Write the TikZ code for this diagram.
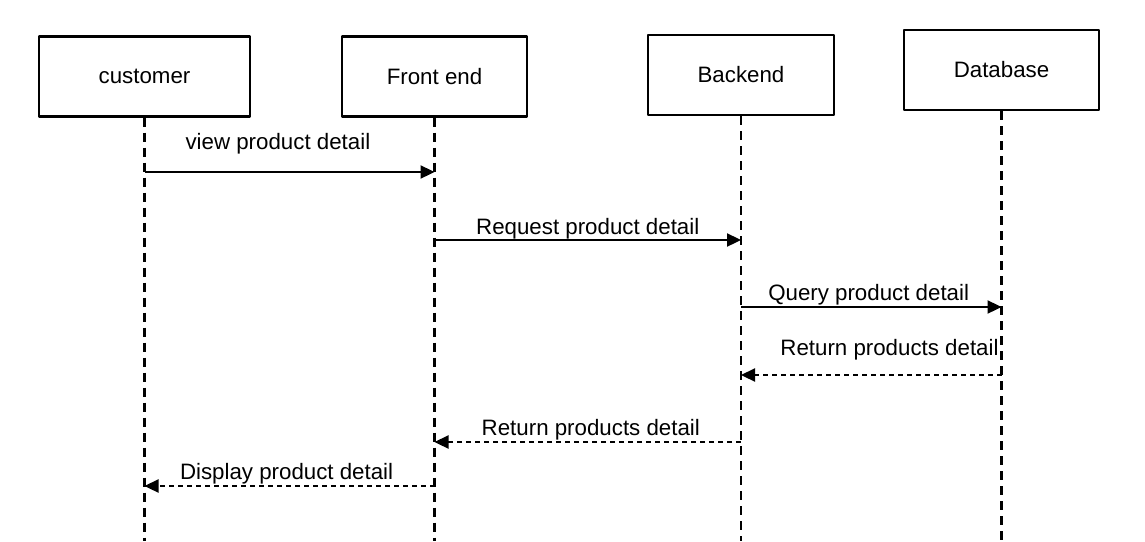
\documentclass[tikz,border=0pt]{standalone}
\usepackage{fontspec}
\setmainfont{Liberation Sans}
\usetikzlibrary{arrows.meta}
\begin{document}
\begin{tikzpicture}[x=1pt, y=-1pt, font=\fontsize{22.3}{26}\selectfont, line join=round, >={Triangle[length=14pt,width=13pt]},
	actor/.style={draw, line width=2.4pt, minimum height=80pt},
	life/.style={line width=2.3pt, dash pattern=on 9pt off 6pt},
	msg/.style={line width=2.3pt, ->},
	reply/.style={msg, dash pattern=on 5pt off 4pt},
	lbl/.style={anchor=base, inner sep=0pt}]
			\useasboundingbox (0,0) rectangle (1145,541);
			\node[actor, minimum width=211pt] (cust) at (144.5,76.5) {customer};
			\node[actor, minimum width=185pt] (front) at (434.5,76.5) {Front end};
			\node[actor, minimum width=186pt] (back) at (741,75) {Backend};
			\node[actor, minimum width=195pt] (db) at (1001.5,70) {Database};
			\foreach \n in {cust,front,back,db} \draw[life] (\n.south) -- (\n.south |- 0,541);
			\draw[msg] (cust |- 0,172) -- node[lbl, pos=.46, yshift=23pt] {view product detail} (front |- 0,172);
			\draw[msg] (front |- 0,240) -- node[lbl, pos=.5, yshift=6pt] {Request product detail} (back |- 0,240);
			\draw[msg] (back |- 0,307) -- node[lbl, pos=.49, yshift=7pt] {Query product detail} (db |- 0,307);
			\draw[reply] (db |- 0,375) -- node[lbl, pos=.43, yshift=20pt] {Return products detail} (back |- 0,375);
			\draw[reply] (back |- 0,442) -- node[lbl, pos=.49, yshift=7pt] {Return products detail} (front |- 0,442);
			\draw[reply] (front |- 0,486) -- node[lbl, pos=.51, yshift=7pt] {Display product detail} (cust |- 0,486);
	\end{tikzpicture}
\end{document}
